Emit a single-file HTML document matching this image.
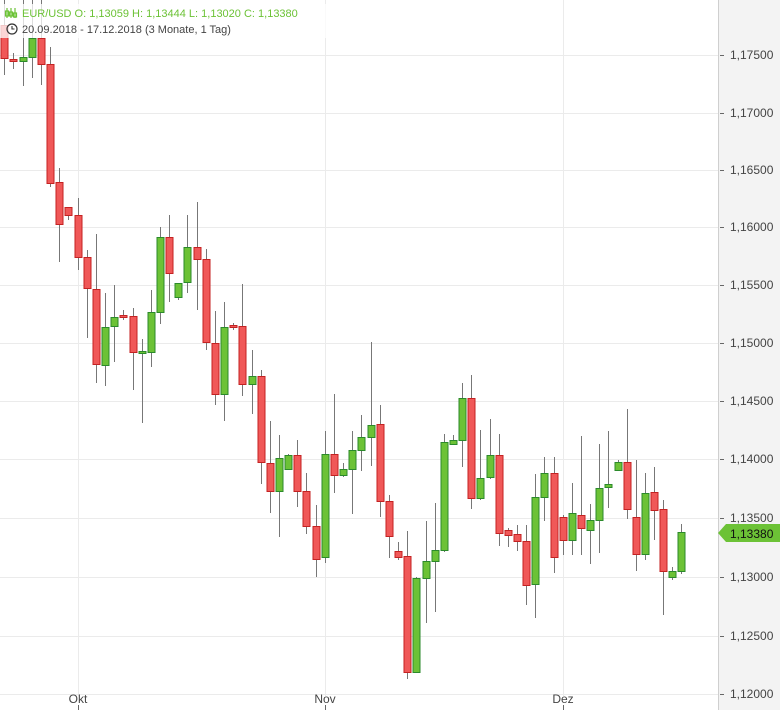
<!DOCTYPE html>
<html><head><meta charset="utf-8"><style>
body{margin:0;background:#fff;}
svg{display:block;font-family:"Liberation Sans",sans-serif;}
</style></head><body>
<svg id="s" width="780" height="710" xmlns="http://www.w3.org/2000/svg">
<rect x="0" y="0" width="780" height="710" fill="#fff"/>
<rect x="718" y="0" width="62" height="710" fill="#f3f3f3"/>
<line x1="718.5" y1="0" x2="718.5" y2="710" stroke="#cfcfcf"/>
<g id="grid" stroke="#ebebeb" stroke-width="1"></g>
<g id="c"></g>
<g id="ax" font-size="12" fill="#444"></g>
<polygon points="718,533 726,524 780,524 780,542 726,542" fill="#6cc236"/>
<text x="730" y="538" font-size="12" fill="#111">1,13380</text>
<rect x="0" y="4" width="340" height="34" fill="#fff" opacity="0.75"/>
<g fill="none" stroke="#6cc236" stroke-width="1.2">
<line x1="7" y1="8" x2="7" y2="18"/><rect x="5.5" y="11" width="3" height="5"/>
<line x1="11" y1="8" x2="11" y2="18"/><rect x="9.5" y="12" width="3" height="4"/>
<line x1="15" y1="8" x2="15" y2="18"/><rect x="13.5" y="13" width="3" height="4"/>
</g>
<text x="22" y="17" font-size="11" fill="#6cc236">EUR/USD  O: 1,13059  H: 1,13444  L: 1,13020  C: 1,13380</text>
<circle cx="12" cy="29" r="5" fill="none" stroke="#333" stroke-width="1.2"/>
<path d="M12 26 V29 H14.5" fill="none" stroke="#333" stroke-width="1.1"/>
<text x="22" y="33" font-size="11" fill="#444">20.09.2018 - 17.12.2018   (3 Monate, 1 Tag)</text>
</svg>
<script>
var ns="http://www.w3.org/2000/svg";
function el(p,t,a){var e=document.createElementNS(ns,t);for(var k in a)e.setAttribute(k,a[k]);p.appendChild(e);return e;}
var g=document.getElementById('grid'),ax=document.getElementById('ax'),c=document.getElementById('c');
var ys=[[55,"1,17500"],[113,"1,17000"],[170,"1,16500"],[227,"1,16000"],[285,"1,15500"],[343,"1,15000"],[401,"1,14500"],[459,"1,14000"],[518,"1,13500"],[577,"1,13000"],[636,"1,12500"],[694,"1,12000"]];
ys.forEach(function(v){el(g,'line',{x1:0,x2:718,y1:v[0]+.5,y2:v[0]+.5});el(ax,'line',{x1:720,x2:724,y1:v[0]+.5,y2:v[0]+.5,stroke:'#666'});var t=el(ax,'text',{x:730,y:v[0]+4});t.textContent=v[1];});
[[78,"Okt"],[325,"Nov"],[563,"Dez"]].forEach(function(v){el(g,'line',{x1:v[0]+.5,x2:v[0]+.5,y1:0,y2:696});el(ax,'line',{x1:v[0]+.5,x2:v[0]+.5,y1:705,y2:710,stroke:'#666'});var t=el(ax,'text',{x:v[0],y:703,'text-anchor':'middle'});t.textContent=v[1];});
var d=[[4,25,58,0,75,'r'],[13,59,61,53,69,'r'],[23,57,61,0,86,'g'],[32,38,57,0,78,'g'],[41,38,64,0,85,'r'],[50,64,183,47,187,'r'],[59,182,224,168,262,'r'],[68,207,215,207,220,'r'],[78,215,257,198,270,'r'],[87,257,288,250,338,'r'],[96,289,364,234,383,'r'],[105,327,365,293,386,'g'],[114,317,326,285,362,'g'],[123,315,317,310,320,'r'],[133,316,352,308,390,'r'],[142,351,353,339,423,'g'],[151,312,352,290,367,'g'],[160,237,312,227,324,'g'],[169,237,273,215,302,'r'],[178,283,297,283,300,'g'],[187,247,282,215,293,'g'],[197,247,259,202,310,'r'],[206,259,342,249,350,'r'],[215,343,394,311,405,'r'],[224,327,394,302,421,'g'],[233,325,327,323,330,'r'],[242,326,384,284,396,'r'],[252,376,384,350,414,'g'],[261,376,462,370,484,'r'],[270,463,491,421,513,'r'],[279,458,491,435,537,'g'],[288,455,469,454,470,'g'],[297,455,491,440,507,'r'],[306,491,526,473,534,'r'],[316,526,559,505,577,'r'],[325,454,557,431,563,'g'],[334,454,475,394,493,'r'],[343,469,475,463,477,'g'],[352,450,469,431,514,'g'],[361,437,450,415,471,'g'],[371,425,437,342,466,'g'],[380,424,501,405,517,'r'],[389,501,536,495,558,'r'],[398,551,557,542,560,'r'],[407,556,672,531,679,'r'],[416,578,672,577,672,'g'],[426,561,578,521,623,'g'],[435,550,561,503,612,'g'],[444,442,550,434,552,'g'],[453,440,444,435,444,'g'],[462,398,440,383,467,'g'],[471,398,498,375,509,'r'],[480,478,498,430,500,'g'],[490,455,477,419,479,'g'],[499,455,533,434,546,'r'],[508,530,535,528,547,'r'],[517,534,541,525,551,'r'],[526,541,585,525,605,'r'],[535,497,584,474,618,'g'],[544,473,497,457,521,'g'],[554,473,557,457,573,'r'],[563,517,540,515,555,'r'],[572,513,540,483,555,'g'],[581,515,528,436,555,'r'],[590,520,530,504,564,'g'],[599,488,520,444,553,'g'],[608,484,487,431,508,'g'],[618,462,470,460,470,'g'],[627,462,509,409,519,'r'],[636,517,554,460,571,'r'],[645,493,554,473,560,'g'],[654,492,510,467,540,'r'],[663,509,571,500,615,'r'],[672,571,577,567,580,'g'],[681,532,571,524,574,'g']];
d.forEach(function(v){var x=v[0],r=v[5]=='r';
el(c,'line',{x1:x+.5,x2:x+.5,y1:v[3],y2:v[4],stroke:'#777','stroke-width':1});
var h=Math.max(v[2]-v[1],1);
el(c,'rect',{x:x-3,y:v[1]+.5,width:7,height:h,fill:r?'#f05858':'#6cc236',stroke:r?'#c42222':'#2b8a2b','stroke-width':1});});
</script>
</body></html>
